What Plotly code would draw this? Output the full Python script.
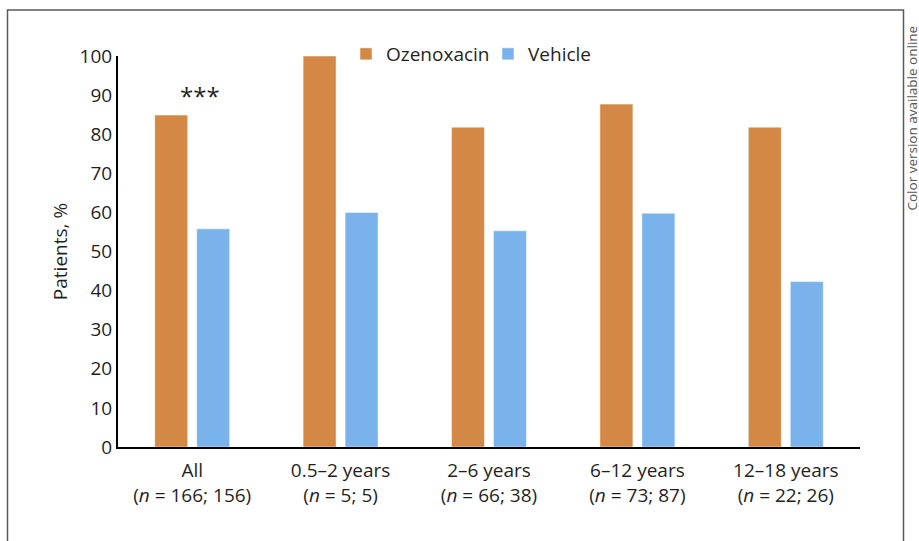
import plotly.graph_objects as go

categories = ["All", "0.5–2 years", "2–6 years", "6–12 years", "12–18 years"]
n_labels = ["(<i>n</i> = 166; 156)", "(<i>n</i> = 5; 5)", "(<i>n</i> = 66; 38)",
            "(<i>n</i> = 73; 87)", "(<i>n</i> = 22; 26)"]
ozenoxacin = [84.9, 100, 81.8, 87.7, 81.8]
vehicle = [55.8, 60, 55.3, 59.8, 42.3]
y_ticks = list(range(0, 101, 10))

W, H = 919, 541
FONT = "Open Sans, Noto Sans, sans-serif"
TXT = "#1f1f1f"


def px(x):
    return x / W


def py(y):
    return 1 - y / H


fig = go.Figure()
fig.add_trace(go.Bar(
    name="Ozenoxacin", x=categories, y=ozenoxacin,
    marker=dict(color="#D38845", line=dict(color="rgba(255,255,255,0.5)", width=1)),
))
fig.add_trace(go.Bar(
    name="Vehicle", x=categories, y=vehicle,
    marker=dict(color="#7AB3EB", line=dict(color="rgba(255,255,255,0.5)", width=1)),
))

ticktext = [f"{c}<br>{n}" for c, n in zip(categories, n_labels)]

fig.update_layout(
    template="none",
    width=W, height=H,
    margin=dict(l=0, r=0, t=0, b=0, autoexpand=False),
    paper_bgcolor="white", plot_bgcolor="white",
    font=dict(family=FONT, size=19, color=TXT),
    barmode="group", bargap=0.434, bargroupgap=0.214,
    showlegend=True,
    legend=dict(orientation="h", x=px(346), y=py(54), xanchor="left", yanchor="middle",
                font=dict(size=19, color=TXT), bgcolor="rgba(0,0,0,0)", itemwidth=30,
                entrywidth=97, entrywidthmode="pixels"),
    xaxis=dict(domain=[px(118), px(860)], tickvals=categories, ticktext=ticktext,
               showline=True, linecolor="black", linewidth=2, ticks="", automargin=False,
               ticklabelstandoff=5,
               showgrid=False, zeroline=False, tickfont=dict(size=19, color=TXT)),
    yaxis=dict(domain=[py(447), py(56)], range=[0, 100], tickvals=y_ticks,
               showline=True, linecolor="black", linewidth=2, ticks="", automargin=False,
               showgrid=False, zeroline=False, tickfont=dict(size=19, color=TXT),
               title=dict(text="Patients, %", font=dict(size=19, color=TXT), standoff=7)),
    shapes=[dict(type="rect", xref="paper", yref="paper",
                 x0=px(7.5), x1=px(903.5), y0=-0.1, y1=py(10),
                 line=dict(color="#5a5a5a", width=1.5), fillcolor="rgba(0,0,0,0)")],
    annotations=[
        dict(text="***", x=categories[0], y=90, xref="x", yref="y", xshift=8,
             showarrow=False, font=dict(size=24, color=TXT), yanchor="middle"),
        dict(text="Color version available online", xref="paper", yref="paper",
             x=px(911), y=py(213), xanchor="center", yanchor="bottom",
             textangle=-90, showarrow=False, font=dict(size=13.5, color="#555555")),
    ],
)

fig.write_html(
    "out.html",
    config={"displayModeBar": False},
    post_script="document.body.style.margin='0';document.body.style.overflow='hidden';",
)
